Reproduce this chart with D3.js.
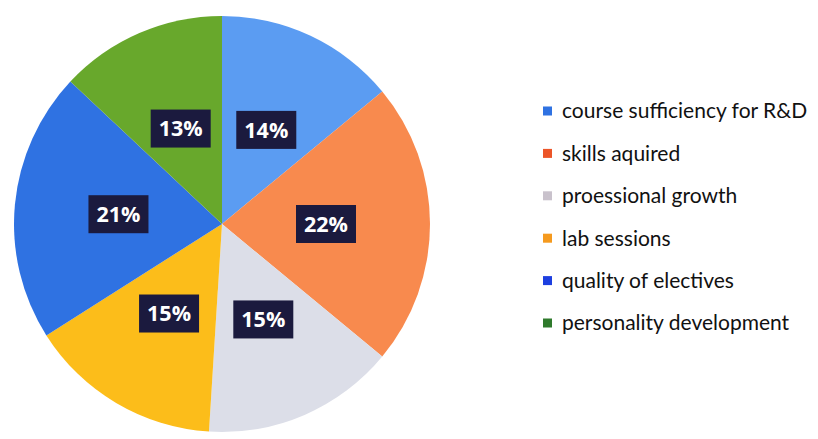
<!DOCTYPE html>
<html><head><meta charset="utf-8">
<script src="https://cdn.jsdelivr.net/npm/d3@7"></script>
<style>body{margin:0;background:#fff}svg{display:block}</style>
</head><body>
<script>
const categories = ["course sufficiency for R&D","skills aquired","proessional growth","lab sessions","quality of electives","personality development"];
const values = [14,22,15,15,21,13];
const sliceColors = ["#5b9cf2","#f88a4e","#dcdee8","#fcbd1a","#2f72e2","#68a82c"];
const legendColors = ["#2f72e2","#ec5528","#c9c2cc","#f59a1e","#1d3fe0","#2f7a2c"];

const W = 818, H = 439;
const svg = d3.select("body").append("svg").attr("width", W).attr("height", H);
const cx = 222, cy = 224, R = 208;

const pie = d3.pie().sort(null).value(d => d);
const arcs = pie(values);
const arc = d3.arc().innerRadius(0).outerRadius(R);
const g = svg.append("g").attr("transform", `translate(${cx},${cy})`);
g.selectAll("path.slice").data(arcs).join("path").attr("class","slice")
  .attr("d", arc).attr("fill", (d,i) => sliceColors[i]);

const lab = g.selectAll("g.lab").data(arcs).join("g").attr("class","lab")
  .attr("transform", d => { const c = arc.centroid(d); return `translate(${c[0]},${c[1]})`; });
lab.append("rect").attr("x",-30).attr("y",-19).attr("width",60).attr("height",38).attr("fill","#1b1a3e");
lab.append("text").attr("text-anchor","middle").attr("dy","0.36em")
  .attr("font-family","Open Sans, sans-serif").attr("font-weight","bold").attr("font-size",21.5)
  .attr("fill","#fff").text(d => d.data + "%");

const y = d3.scalePoint().domain(categories).range([111, 323]);
const leg = svg.append("g").selectAll("g").data(categories).join("g")
  .attr("transform", d => `translate(543,${y(d)})`);
leg.append("rect").attr("x",0).attr("y",-4.5).attr("width",9).attr("height",9).attr("fill",(d,i)=>legendColors[i]);
leg.append("text").attr("x",19).attr("dy","0.35em").attr("font-family","Lato, sans-serif")
  .attr("font-size",21).attr("fill","#111").text(d => d);
</script>
</body></html>
